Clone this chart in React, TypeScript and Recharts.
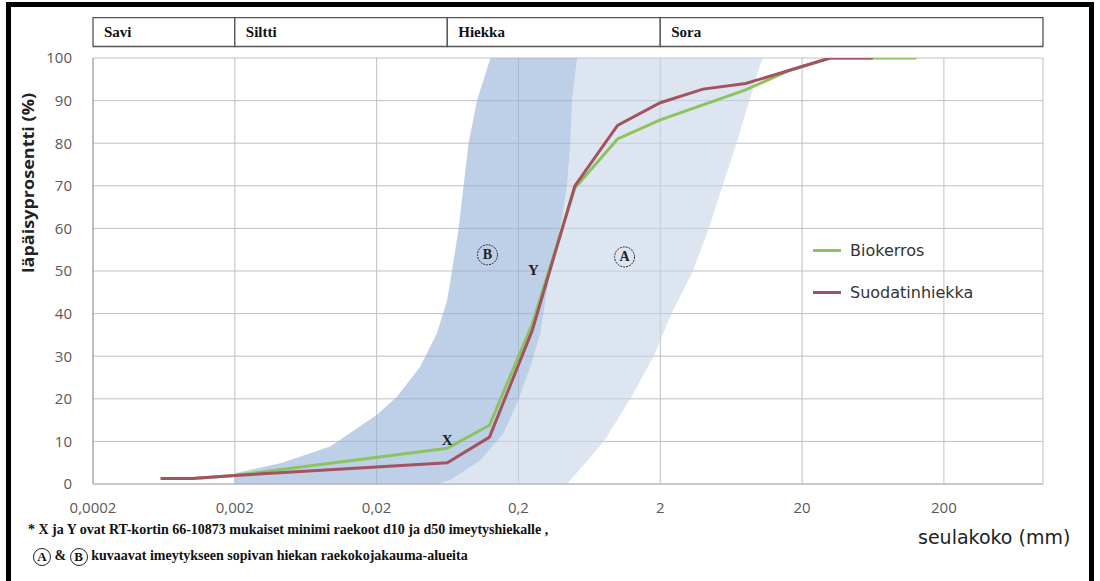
import React from 'react'
import {
  ComposedChart,
  Line,
  Area,
  XAxis,
  YAxis,
  CartesianGrid,
  ReferenceArea,
  ReferenceDot,
  Legend,
} from 'recharts'

// sieve sizes (mm) and passing percentages
const sizeTicks = [0.0002, 0.002, 0.02, 0.2, 2, 20, 200]
const passTicks = [0, 10, 20, 30, 40, 50, 60, 70, 80, 90, 100]

const bioSize = [0.0006, 0.001, 0.002, 0.063, 0.125, 0.25, 0.5, 1, 2, 8, 16, 31.5, 63, 128]
const bioPass = [1.3, 1.3, 2, 8.4, 13.8, 37.5, 69.5, 81, 85.5, 92.5, 97, 100, 100, 100]

const filterSize = [0.0006, 0.001, 0.002, 0.063, 0.125, 0.25, 0.5, 1, 2, 4, 8, 31.5, 63]
const filterPass = [1.3, 1.3, 2, 5, 11, 36, 70, 84.2, 89.5, 92.7, 94, 100, 100]

// envelope B: up the fine edge, then down the coarse edge
const bandBSize = [
  0.002, 0.002, 0.0042, 0.0094, 0.02, 0.0278, 0.0406, 0.0532, 0.0627, 0.068, 0.0757, 0.082, 0.089, 0.102, 0.127,
  0.519, 0.478, 0.465, 0.44, 0.395, 0.336, 0.31, 0.286, 0.243, 0.2, 0.157, 0.108, 0.066, 0.0532,
]
const bandBPass = [
  0, 2.5, 4.9, 8.8, 16.2, 20.5, 27.5, 35.4, 43, 50, 60, 70, 80, 90, 100,
  100, 90, 80, 70, 60, 50, 43, 35.4, 27.5, 19.7, 11.9, 5.6, 0.9, 0,
]

// envelope A: starts where B ends, coarse edge on the right
const bandASize = [
  0.0532, 0.066, 0.108, 0.157, 0.2, 0.243, 0.286, 0.31, 0.336, 0.395, 0.44, 0.465, 0.478, 0.519,
  10.5, 8.5, 6.9, 5.5, 4.4, 3.4, 2.4, 1.8, 1.23, 0.8, 0.44,
]
const bandAPass = [
  0, 0.9, 5.6, 11.9, 19.7, 27.5, 35.4, 43, 50, 60, 70, 80, 90, 100,
  100, 90, 80, 70, 60, 50, 40, 30, 20, 10, 0,
]

const soilNames = ['Savi', 'Siltti', 'Hiekka', 'Sora']
const soilLimits = [0.0002, 0.002, 0.063, 2, 1000]

const noteText = ['X', 'Y', 'B', 'A']
const noteSize = [0.063, 0.255, 0.121, 1.12]
const notePass = [10.3, 50.2, 53.8, 53.3]
const noteCircled = [false, false, true, true]

const toRows = (xs: number[], ys: number[]) => xs.map((size, i) => ({ size, pass: ys[i] }))

const bioData = toRows(bioSize, bioPass)
const filterData = toRows(filterSize, filterPass)
const bandA = toRows(bandASize, bandAPass)
const bandB = toRows(bandBSize, bandBPass)

const serif = '"Liberation Serif", "DejaVu Serif", serif'
const sans = '"Open Sans", "DejaVu Sans", sans-serif'

const fmtSize = (v: number) => String(v).replace('.', ',')

function Circled({ ch }: { ch: string }) {
  return (
    <span
      style={{
        display: 'inline-block',
        width: 16,
        height: 16,
        lineHeight: '16px',
        borderRadius: '50%',
        border: '1px solid #222',
        textAlign: 'center',
        fontSize: 13,
        verticalAlign: 'middle',
      }}
    >
      {ch}
    </span>
  )
}

function NoteShape(props: any) {
  const { cx, cy, text, circled } = props
  return (
    <g>
      {circled && <circle cx={cx} cy={cy} r={10} fill="none" stroke="#222" strokeWidth={1} strokeDasharray="2 1" />}
      <text
        x={cx}
        y={cy}
        textAnchor="middle"
        dominantBaseline="central"
        fontFamily={serif}
        fontWeight="bold"
        fontSize={circled ? 14 : 15}
        fill="#222"
      >
        {text}
      </text>
    </g>
  )
}

function LegendBox(props: any) {
  const items = (props.payload || []).filter((p: any) => p.type !== 'none')
  return (
    <div>
      {items.map((p: any) => (
        <div key={p.value} style={{ display: 'flex', alignItems: 'center', height: 42 }}>
          <span style={{ display: 'inline-block', width: 28, height: 3, background: p.color, marginRight: 9 }} />
          <span style={{ fontFamily: '"DejaVu Sans", sans-serif', fontSize: 16, color: '#333' }}>{p.value}</span>
        </div>
      ))}
    </div>
  )
}

export default function App() {
  return (
    <div style={{ position: 'absolute', left: 0, top: 0, width: 1100, height: 581, overflow: 'hidden', background: '#fff' }}>
      <div
        style={{
          position: 'absolute',
          left: 6,
          top: 2,
          width: 1088,
          height: 620,
          border: '5px solid #000',
          boxSizing: 'border-box',
        }}
      />
      <div style={{ position: 'absolute', left: 0, top: 0 }}>
        <ComposedChart width={1100} height={581} margin={{ top: 58, right: 57, bottom: 67, left: 33 }}>
          <CartesianGrid stroke="#c0c0c0" />
          <XAxis
            dataKey="size"
            type="number"
            scale="log"
            domain={[0.0002, 1000]}
            ticks={sizeTicks}
            allowDataOverflow
            tickFormatter={fmtSize}
            tickLine={false}
            axisLine={{ stroke: '#b0b0b0' }}
            tickMargin={12}
            height={30}
            tick={{ fill: '#595959', fontSize: 15, fontFamily: sans }}
          />
          <YAxis
            type="number"
            domain={[0, 100]}
            ticks={passTicks}
            allowDataOverflow
            tickLine={false}
            axisLine={{ stroke: '#a0a0a0' }}
            tickMargin={15}
            width={60}
            tick={{ fill: '#595959', fontSize: 15, fontFamily: sans }}
          />
          <Area
            data={bandA}
            dataKey="pass"
            type="linear"
            stroke="none"
            fill="rgb(198,212,232)"
            fillOpacity={0.6}
            legendType="none"
            isAnimationActive={false}
          />
          <Area
            data={bandB}
            dataKey="pass"
            type="linear"
            stroke="none"
            fill="rgb(147,177,217)"
            fillOpacity={0.6}
            legendType="none"
            isAnimationActive={false}
          />
          <Line
            data={bioData}
            dataKey="pass"
            name="Biokerros"
            type="linear"
            stroke="#8dc35e"
            strokeWidth={3}
            dot={false}
            isAnimationActive={false}
          />
          <Line
            data={filterData}
            dataKey="pass"
            name="Suodatinhiekka"
            type="linear"
            stroke="#a3535f"
            strokeWidth={3}
            dot={false}
            isAnimationActive={false}
          />
          {soilNames.map((name, i) => (
            <ReferenceArea
              key={name}
              x1={soilLimits[i]}
              x2={soilLimits[i + 1]}
              y1={102.7}
              y2={109.5}
              ifOverflow="visible"
              fill="#fff"
              fillOpacity={1}
              stroke="#555"
              strokeWidth={1.3}
              label={{
                value: name,
                position: 'insideLeft',
                offset: 11,
                fill: '#111',
                fontFamily: serif,
                fontWeight: 'bold',
                fontSize: 15,
              }}
            />
          ))}
          {noteText.map((t, i) => (
            <ReferenceDot
              key={t}
              x={noteSize[i]}
              y={notePass[i]}
              r={0}
              ifOverflow="visible"
              shape={(p: any) => <NoteShape {...p} text={t} circled={noteCircled[i]} />}
            />
          ))}
          <Legend
            layout="vertical"
            align="center"
            verticalAlign="middle"
            wrapperStyle={{ left: 813, top: 229, width: 220 }}
            content={LegendBox}
          />
        </ComposedChart>
      </div>
      <svg style={{ position: 'absolute', left: 0, top: 0 }} width={60} height={400}>
        <text
          x={28}
          y={183}
          transform="rotate(-90, 28, 183)"
          textAnchor="middle"
          dominantBaseline="central"
          fontFamily={sans}
          fontWeight="bold"
          fontSize={16}
          textLength={180}
          lengthAdjust="spacingAndGlyphs"
          fill="#222"
        >
          läpäisyprosentti (%)
        </text>
      </svg>
      <div
        style={{
          position: 'absolute',
          left: 918,
          top: 526,
          whiteSpace: 'nowrap',
          fontFamily: '"DejaVu Sans", sans-serif',
          fontSize: 19,
          color: '#222',
        }}
      >
        seulakoko (mm)
      </div>
      <div
        style={{
          position: 'absolute',
          left: 28,
          top: 522,
          whiteSpace: 'nowrap',
          fontFamily: serif,
          fontWeight: 'bold',
          fontSize: 14,
          color: '#111',
        }}
      >
        * X ja Y ovat RT-kortin 66-10873 mukaiset minimi raekoot d10 ja d50 imeytyshiekalle ,
      </div>
      <div
        style={{
          position: 'absolute',
          left: 33,
          top: 548,
          whiteSpace: 'nowrap',
          fontFamily: serif,
          fontWeight: 'bold',
          fontSize: 14,
          color: '#111',
        }}
      >
        <Circled ch="A" /> &amp; <Circled ch="B" /> kuvaavat imeytykseen sopivan hiekan raekokojakauma-alueita
      </div>
    </div>
  )
}
